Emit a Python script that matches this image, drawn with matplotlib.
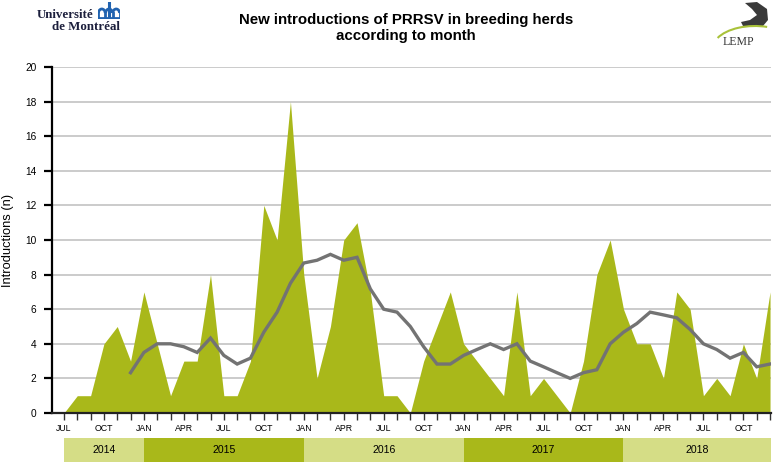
import matplotlib
matplotlib.use('Agg')
import matplotlib.pyplot as plt
from matplotlib.patches import Arc, Polygon

plt.rcParams['font.family'] = ['Liberation Sans', 'DejaVu Sans']

# monthly new introductions, JUL 2014 .. DEC 2018
introductions = [0, 1, 1, 4, 5, 3,
                 7, 4, 1, 3, 3, 8, 1, 1, 3, 12, 10, 18,
                 8, 2, 5, 10, 11, 7, 1, 1, 0, 3, 5, 7,
                 4, 3, 2, 1, 7, 1, 2, 1, 0, 3, 8, 10,
                 6, 4, 4, 2, 7, 6, 1, 2, 1, 4, 2, 7]
# moving average (gray line), starts DEC 2014
moving_avg = [2.33, 3.5, 4.0, 4.0, 3.83, 3.5, 4.33, 3.33, 2.83, 3.17, 4.67, 5.83,
              7.5, 8.67, 8.83, 9.17, 8.83, 9.0, 7.17, 6.0, 5.83, 5.0, 3.83, 2.83,
              2.83, 3.33, 3.67, 4.0, 3.67, 4.0, 3.0, 2.67, 2.33, 2.0, 2.33, 2.5,
              4.0, 4.67, 5.17, 5.83, 5.67, 5.5, 4.83, 4.0, 3.67, 3.17, 3.5, 2.67, 2.83]
ma_start = 5
month_labels = ['JUL', 'OCT', 'JAN', 'APR']
years = ['2014', '2015', '2016', '2017', '2018']
year_starts = [0, 6, 18, 30, 42]

green = '#a9b81a'
light_green = '#d5dd86'
gray = '#737373'

n = len(introductions)
x = list(range(n))

fig = plt.figure(figsize=(7.78, 4.62), dpi=100)
ax = fig.add_axes([51.7/778, 49/462, 719/778, 346/462])

ax.fill_between(x, 0, introductions, color=green, lw=0, zorder=2)
ax.plot(x[ma_start:], moving_avg, color=gray, lw=2.4, zorder=3, solid_joinstyle='miter')

xmin, xmax = -0.92, n - 1 + 0.05
ax.set_xlim(xmin, xmax)
ax.set_ylim(0, 20)
ax.set_yticks(range(0, 21, 2))
ax.yaxis.grid(True, color='#bdbdbd', lw=1.1)
ax.set_axisbelow(True)
for s in ['top', 'right']:
    ax.spines[s].set_visible(False)
ax.spines['left'].set_linewidth(1.6)
ax.spines['bottom'].set_linewidth(1.6)
ax.spines['bottom'].set_color('#222222')
ax.tick_params(axis='y', length=6, width=1.6, labelsize=7.3, pad=5)
ax.set_xticks(x)
ax.set_xticklabels([month_labels[i // 3 % 4] if i % 3 == 0 else '' for i in x])
ax.tick_params(axis='x', length=5, width=1, color='#333333', labelsize=6.3, pad=3)
ax.set_ylabel('Introductions (n)', fontsize=9.3, labelpad=8)

# year band
bx = fig.add_axes([51.7/778, 0, 719/778, 24/462])
bx.set_xlim(xmin, xmax)
bx.set_ylim(0, 1)
bx.axis('off')
ends = year_starts[1:] + [xmax]
for i, (yr, a, b) in enumerate(zip(years, year_starts, ends)):
    bx.axvspan(a, b, color=light_green if i % 2 == 0 else green, lw=0)
    bx.text((a + b) / 2, 0.5, yr, ha='center', va='center', fontsize=7.6)

fig.text(406/778, 1 - 28/462, 'New introductions of PRRSV in breeding herds\naccording to month',
         ha='center', va='center', fontsize=10.8, fontweight='bold', linespacing=1.2)

# Université de Montréal logo
fig.text(93/778, 1 - 15/462, 'Université', ha='right', va='center', fontsize=9.3,
         family='Liberation Serif', color='#1c1f3c', fontweight='bold')
fig.text(120/778, 1 - 27/462, 'de Montréal', ha='right', va='center', fontsize=9.3,
         family='Liberation Serif', color='#1c1f3c', fontweight='bold')
lg = fig.add_axes([98/778, 1 - 19/462, 22/778, 17/462])
lg.set_xlim(0, 23)
lg.set_ylim(0, 17)
lg.axis('off')
blue = '#2163b0'
lg.plot([1, 22], [1, 1], color=blue, lw=2)
for cx in [4, 11.5, 19]:
    lg.add_patch(Arc((cx, 6), 7, 8, theta1=0, theta2=180, color=blue, lw=2))
for xs in [0.5, 7.5, 15.5, 22.5]:
    lg.plot([xs, xs], [1, 6], color=blue, lw=2)
lg.plot([11.5, 11.5], [1, 16], color=blue, lw=2.2)

# LEMP logo
lp = fig.add_axes([705/778, 1 - 50/462, 70/778, 50/462])
lp.set_xlim(0, 70)
lp.set_ylim(50, 0)
lp.axis('off')
lp.add_patch(Polygon([[40, 3], [52, 2], [62, 9], [63, 20], [58, 26], [48, 27], [38, 26],
                      [36, 22], [45, 20], [52, 15], [47, 9]], color='#3a3a3a', lw=0))
lp.add_patch(Arc((50, 48), 84, 44, theta1=195, theta2=300, color='#a9c23a', lw=1.5,
                 transform=lp.transData))
lp.text(33, 42, 'LEMP', ha='center', va='center', fontsize=8.5,
        family='Liberation Serif', color='#333333')

fig.savefig('out.png', dpi=100)
